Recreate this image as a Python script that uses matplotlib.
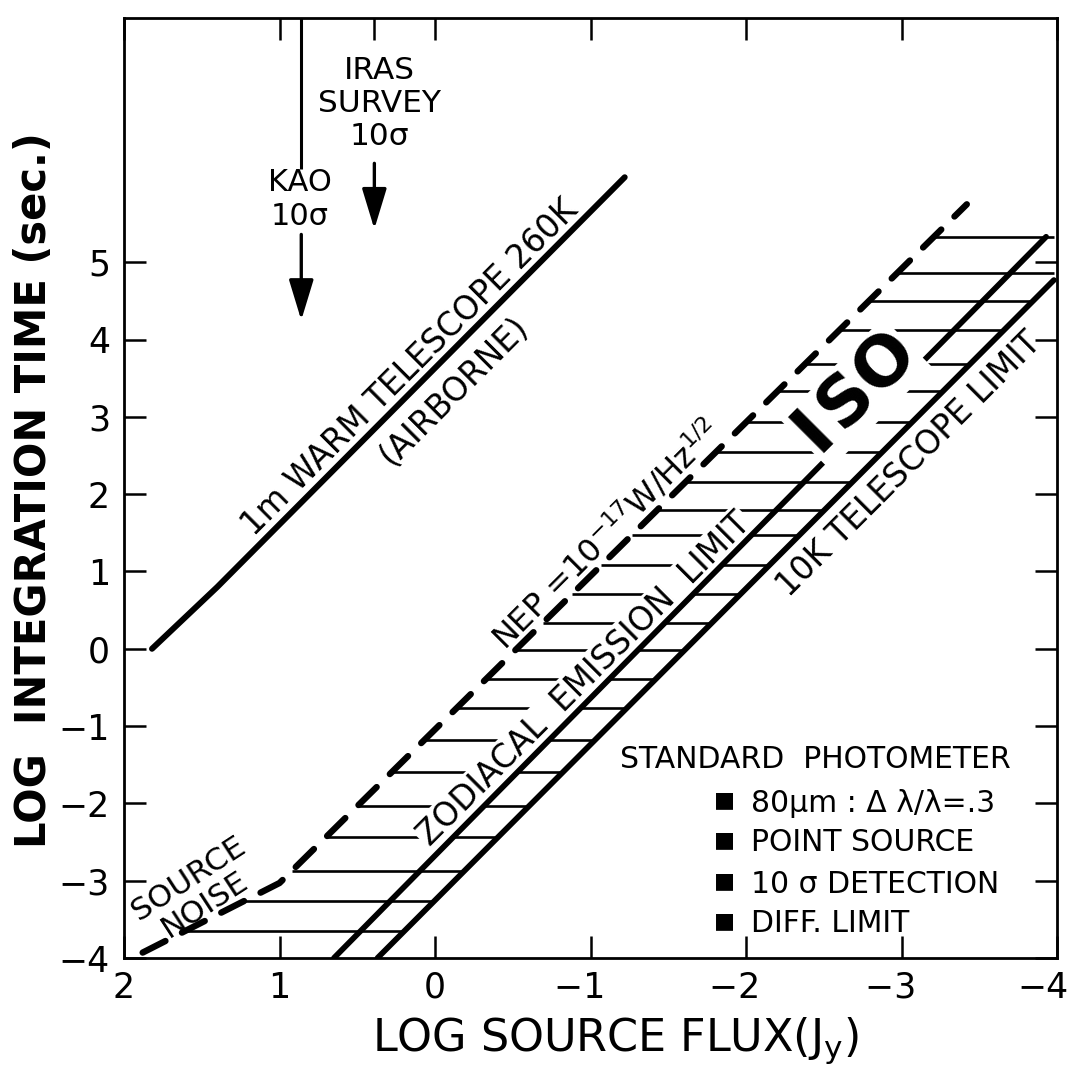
import numpy as np
import matplotlib
matplotlib.use('Agg')
import matplotlib.pyplot as plt
from matplotlib import font_manager
from matplotlib.ticker import FixedLocator
from matplotlib.transforms import ScaledTranslation

# x = log source flux (Jy), y = log integration time (sec.)
warm_x = [1.82, 1.40, -1.22]          # 1m warm telescope 260K (airborne)
warm_y = [0.00, 0.80, 6.10]

nep_x = [1.88, 1.00, -3.42]           # source noise, then NEP = 1e-17 W/Hz^1/2
nep_y = [-3.93, -3.03, 5.75]

zodi_x = [0.65, -3.93]                # zodiacal emission limit
zodi_y = [-4.00, 5.33]

tel10k_x = [0.37, -3.98]              # 10K telescope limit
tel10k_y = [-4.00, 4.77]

# horizontal hatching of the ISO band
hatch_y = [-3.65, -3.26, -2.87, -2.44, -2.03, -1.60, -1.18, -0.76, -0.39, -0.01,
           0.34, 0.71, 1.08, 1.47, 1.80, 2.16, 2.54, 2.93, 3.33, 3.68, 4.13,
           4.50, 4.86, 5.33]

kao_x = 0.86
kao_line_y = [6.21, 8.16]
kao_arrow_y = [5.36, 4.25]
iras_x = 0.39
iras_arrow_y = [6.28, 5.43]

xticks = [2, 1, 0, -1, -2, -3, -4]
xtick_labels = ['2', '1', '0', '\u22121\u2007', '\u22122\u2007', '\u22123\u2007', '\u22124']
yticks = [-4, -3, -2, -1, 0, 1, 2, 3, 4, 5]
ytick_labels = ['\u22124', '\u22123', '\u22122', '\u22121', '0', '1', '2', '3', '4', '5']

notes = ['80\u00b5m : \u0394 \u03bb/\u03bb=.3', 'POINT SOURCE', '10 \u03c3 DETECTION', 'DIFF. LIMIT']

plt.rcParams['font.family'] = ['DejaVu Sans']

names = {f.name for f in font_manager.fontManager.ttflist}
if 'Liberation Sans Narrow' in names:
    label_font, ylab_fs, xlab_fs, tick_fs = 'Liberation Sans Narrow', 38, 39, 27
else:
    label_font, ylab_fs, xlab_fs, tick_fs = 'DejaVu Sans', 30, 32, 25

fig = plt.figure(figsize=(10.77, 10.72), dpi=100)
ax = fig.add_axes([124 / 1077, 114 / 1072, 933 / 1077, 940 / 1072])
ax.set_xlim(2, -4)
ax.set_ylim(-4, 8.16)

# main curves
ax.plot(warm_x, warm_y, color='black', lw=4.3, solid_capstyle='round', zorder=3)
ax.plot(zodi_x, zodi_y, color='black', lw=4.1, solid_capstyle='round', zorder=3)
ax.plot(tel10k_x, tel10k_y, color='black', lw=4.1, solid_capstyle='round', zorder=5)
ax.plot(nep_x, nep_y, color='black', lw=4.6, dashes=(4.0, 2.9),
        dash_capstyle='round', zorder=5)

# hatching between NEP line and 10K line
hy = np.array(hatch_y)
x_left = np.interp(hy, nep_y, nep_x)
x_right = np.interp(hy, tel10k_y, tel10k_x)
ax.hlines(hy, x_left, x_right, color='black', lw=1.9, zorder=1)

# KAO / IRAS markers
ax.vlines(kao_x, kao_line_y[0], kao_line_y[1], color='black', lw=2.2, zorder=3)
arrow = dict(arrowstyle='-|>,head_length=1.25,head_width=0.38', lw=2.4,
             color='black', shrinkA=0, shrinkB=0, mutation_scale=20)
ax.annotate('', xy=(kao_x, kao_arrow_y[1]), xytext=(kao_x, kao_arrow_y[0]),
            arrowprops=arrow)
ax.annotate('', xy=(iras_x, iras_arrow_y[1]), xytext=(iras_x, iras_arrow_y[0]),
            arrowprops=arrow)
ax.text(0.87, 5.81, 'KAO\n10\u03c3', ha='center', va='center', fontsize=22,
        linespacing=1.2)
ax.text(0.36, 7.05, 'IRAS\nSURVEY\n10\u03c3', ha='center', va='center',
        fontsize=22.5, linespacing=1.18)

# labels along the curves
rot = dict(rotation=45, rotation_mode='anchor', ha='center', va='center')
ax.text(0.16, 3.64, '1m WARM TELESCOPE 260K', fontsize=23.5, **rot)
ax.text(-0.12, 3.33, '(AIRBORNE)', fontsize=23.5, **rot)
ax.text(-1.10, 1.48, r'NEP =10$^{-17}$W/Hz$^{1/2}$', fontsize=23, **rot)
ax.text(-0.96, -0.39, 'ZODIACAL  EMISSION  LIMIT', fontsize=23.5, zorder=2.5,
        bbox=dict(facecolor='white', edgecolor='none', pad=1.5), **rot)
ax.text(-3.05, 2.39, '10K TELESCOPE LIMIT', fontsize=23.5, **rot)
ax.text(-2.71, 3.30, 'I\u200aSO', fontsize=50, fontweight='bold', zorder=4,
        bbox=dict(facecolor='white', edgecolor='none', pad=1.0), **rot)
ax.text(1.53, -3.14, 'SOURCE\nNOISE', rotation=33, rotation_mode='anchor',
        ha='center', va='center', multialignment='center', fontsize=22.5,
        linespacing=1.05)

# instrument box text
ax.text(-1.19, -1.54, 'STANDARD  PHOTOMETER', ha='left', va='baseline', fontsize=21.5)
for s, yb in zip(notes, [-2.11, -2.62, -3.16, -3.67]):
    ax.text(-1.86, yb + 0.15, '\u25a0', ha='center', va='center', fontsize=16)
    ax.text(-2.035, yb, s, ha='left', va='baseline', fontsize=21.5)

# axes styling
for sp in ax.spines.values():
    sp.set_linewidth(2.0)
ax.set_xticks(xticks)
ax.set_xticklabels(xtick_labels, fontfamily=label_font, fontsize=tick_fs)
ax.set_yticks(yticks)
ax.set_yticklabels(ytick_labels, fontfamily=label_font, fontsize=tick_fs)
ax.xaxis.set_minor_locator(FixedLocator([iras_x]))
ax.tick_params(which='major', direction='in', length=16, width=1.8,
               top=True, right=True)
ax.tick_params(axis='x', which='major', pad=9)
ax.tick_params(axis='y', which='major', pad=10)
ax.tick_params(axis='x', which='minor', direction='in', length=16, width=1.8,
               top=True, bottom=False)

# keep the last flux label inside the figure, digit near the corner
last = ax.get_xticklabels()[-1]
last.set_horizontalalignment('right')
last.set_transform(last.get_transform() + ScaledTranslation(12 / 100, 0, fig.dpi_scale_trans))

fig.text(34 / 1077, 1 - 490 / 1072, 'LOG  INTEGRATION TIME (sec.)', rotation=90,
         ha='center', va='center', fontsize=ylab_fs, fontweight='bold',
         fontfamily=label_font)
fig.text(615 / 1077, 1 - 1051 / 1072, r'LOG SOURCE FLUX(J$\mathregular{_y}$)',
         ha='center', va='baseline', fontsize=xlab_fs, fontfamily=label_font)

fig.savefig('out.png', dpi=100)
